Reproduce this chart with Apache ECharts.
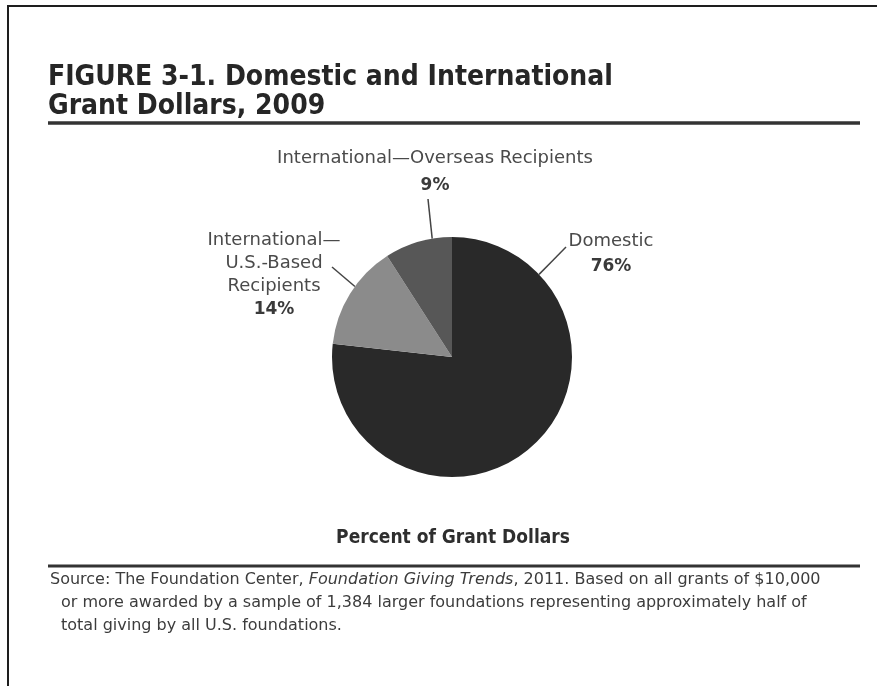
<!DOCTYPE html>
<html>
<head>
<meta charset="utf-8">
<script src="https://cdn.jsdelivr.net/npm/echarts@6/dist/echarts.min.js"></script>
<style>
  html, body { margin: 0; padding: 0; background: #ffffff; }
  #chart { width: 877px; height: 686px; }
</style>
</head>
<body>
<div id="chart"></div>
<script>
// Share of grant dollars by recipient type, 2009 (percent)
const categories = ['Domestic', 'International—U.S.-Based Recipients', 'International—Overseas Recipients'];
const displayNames = ['Domestic', 'International—\nU.S.-Based\nRecipients', 'International—Overseas Recipients'];
const shares = [76, 14, 9];
const sliceColors = ['#292929', '#8b8b8b', '#575757'];

const titleLines = ['FIGURE 3-1. Domestic and International', 'Grant Dollars, 2009'];
const caption = 'Percent of Grant Dollars';
const sourceLines = [
  ['Source: The Foundation Center, ', 'Foundation Giving Trends', ', 2011. Based on all grants of $10,000'],
  ['or more awarded by a sample of 1,384 larger foundations representing approximately half of'],
  ['total giving by all U.S. foundations.']
];

// Pie geometry
const CX = 452, CY = 357, R = 120;

// Label placement: text anchor (centre/top) and leader line from the rim (angle in degrees,
// clockwise from 12 o'clock) out to an end point near the text.
const labelPlacement = [
  { x: 611, y: 229, rimAngle: 46.5, end: [566, 247], lineHeight: 25 },
  { x: 274, y: 229, rimAngle: 306, end: [332, 267], lineHeight: 23 },
  { x: 435, y: 144, rimAngle: 350.5, end: [428, 199], lineHeight: 28 }
];

function rimPoint(deg, r) {
  const a = deg * Math.PI / 180;
  return [CX + r * Math.sin(a), CY - r * Math.cos(a)];
}

const labelFont = '"DejaVu Sans", sans-serif';
const headFont = '"DejaVu Sans Condensed", "Liberation Sans Narrow", "Liberation Sans", sans-serif';

const chart = echarts.init(document.getElementById('chart'), null, { renderer: 'canvas' });

const data = categories.map((c, i) => ({
  name: c,
  value: shares[i],
  itemStyle: { color: sliceColors[i] },
  label: { lineHeight: labelPlacement[i].lineHeight }
}));

const sourceGraphics = sourceLines.map((parts, i) => {
  const richText = parts.map((p, j) => (parts.length === 3 && j === 1) ? '{it|' + p + '}' : '{rg|' + p + '}').join('');
  return {
    type: 'text',
    x: i === 0 ? 50 : 61,
    y: 580 + i * 23,
    style: {
      text: richText,
      verticalAlign: 'middle',
      rich: {
        rg: { fontFamily: labelFont, fontSize: 16, fill: '#3c3c3c' },
        it: { fontFamily: labelFont, fontSize: 16, fontStyle: 'italic', fill: '#3c3c3c' }
      }
    }
  };
});

chart.setOption({
  animation: false,
  backgroundColor: '#ffffff',
  title: [{
    text: titleLines.join('\n'),
    left: 48,
    top: 63,
    padding: 0,
    textStyle: {
      fontFamily: headFont,
      fontSize: 28,
      fontWeight: 'bold',
      lineHeight: 29,
      color: '#262626'
    }
  }],
  graphic: [
    // outer frame: top and left edges
    { type: 'line', shape: { x1: 7, y1: 6, x2: 877, y2: 6 }, style: { stroke: '#1e1e1e', lineWidth: 2 } },
    { type: 'line', shape: { x1: 8, y1: 6, x2: 8, y2: 686 }, style: { stroke: '#1e1e1e', lineWidth: 2 } },
    // rules under title and above source
    { type: 'line', shape: { x1: 48, y1: 123, x2: 860, y2: 123 }, style: { stroke: '#333333', lineWidth: 3.5 } },
    { type: 'line', shape: { x1: 48, y1: 566, x2: 860, y2: 566 }, style: { stroke: '#333333', lineWidth: 3 } },
    // caption under the pie
    {
      type: 'text', x: 453, y: 538,
      style: {
        text: caption, align: 'center', verticalAlign: 'middle',
        fontFamily: headFont, fontSize: 19, fontWeight: 'bold', fill: '#2e2e2e'
      }
    }
  ].concat(sourceGraphics),
  series: [{
    type: 'pie',
    center: [CX, CY],
    radius: R,
    startAngle: 90,
    clockwise: true,
    silent: true,
    data: data,
    itemStyle: { borderWidth: 0 },
    label: {
      show: true,
      position: 'outside',
      formatter: p => '{n|' + displayNames[p.dataIndex] + '}\n{p|' + p.value + '%}',
      align: 'center',
      rich: {
        n: { fontFamily: labelFont, fontSize: 18, color: '#4a4a4a', align: 'center' },
        p: { fontFamily: labelFont, fontSize: 17, fontWeight: 'bold', color: '#3a3a3a', align: 'center' }
      }
    },
    labelLine: { show: true, lineStyle: { color: '#444444', width: 1.5 } },
    labelLayout: params => {
      const lp = labelPlacement[params.dataIndex];
      const start = rimPoint(lp.rimAngle, R);
      const mid = [(start[0] + lp.end[0]) / 2, (start[1] + lp.end[1]) / 2];
      return {
        x: lp.x,
        y: lp.y,
        align: 'center',
        verticalAlign: 'top',
        labelLinePoints: [start, mid, lp.end]
      };
    }
  }]
});
</script>
</body>
</html>
